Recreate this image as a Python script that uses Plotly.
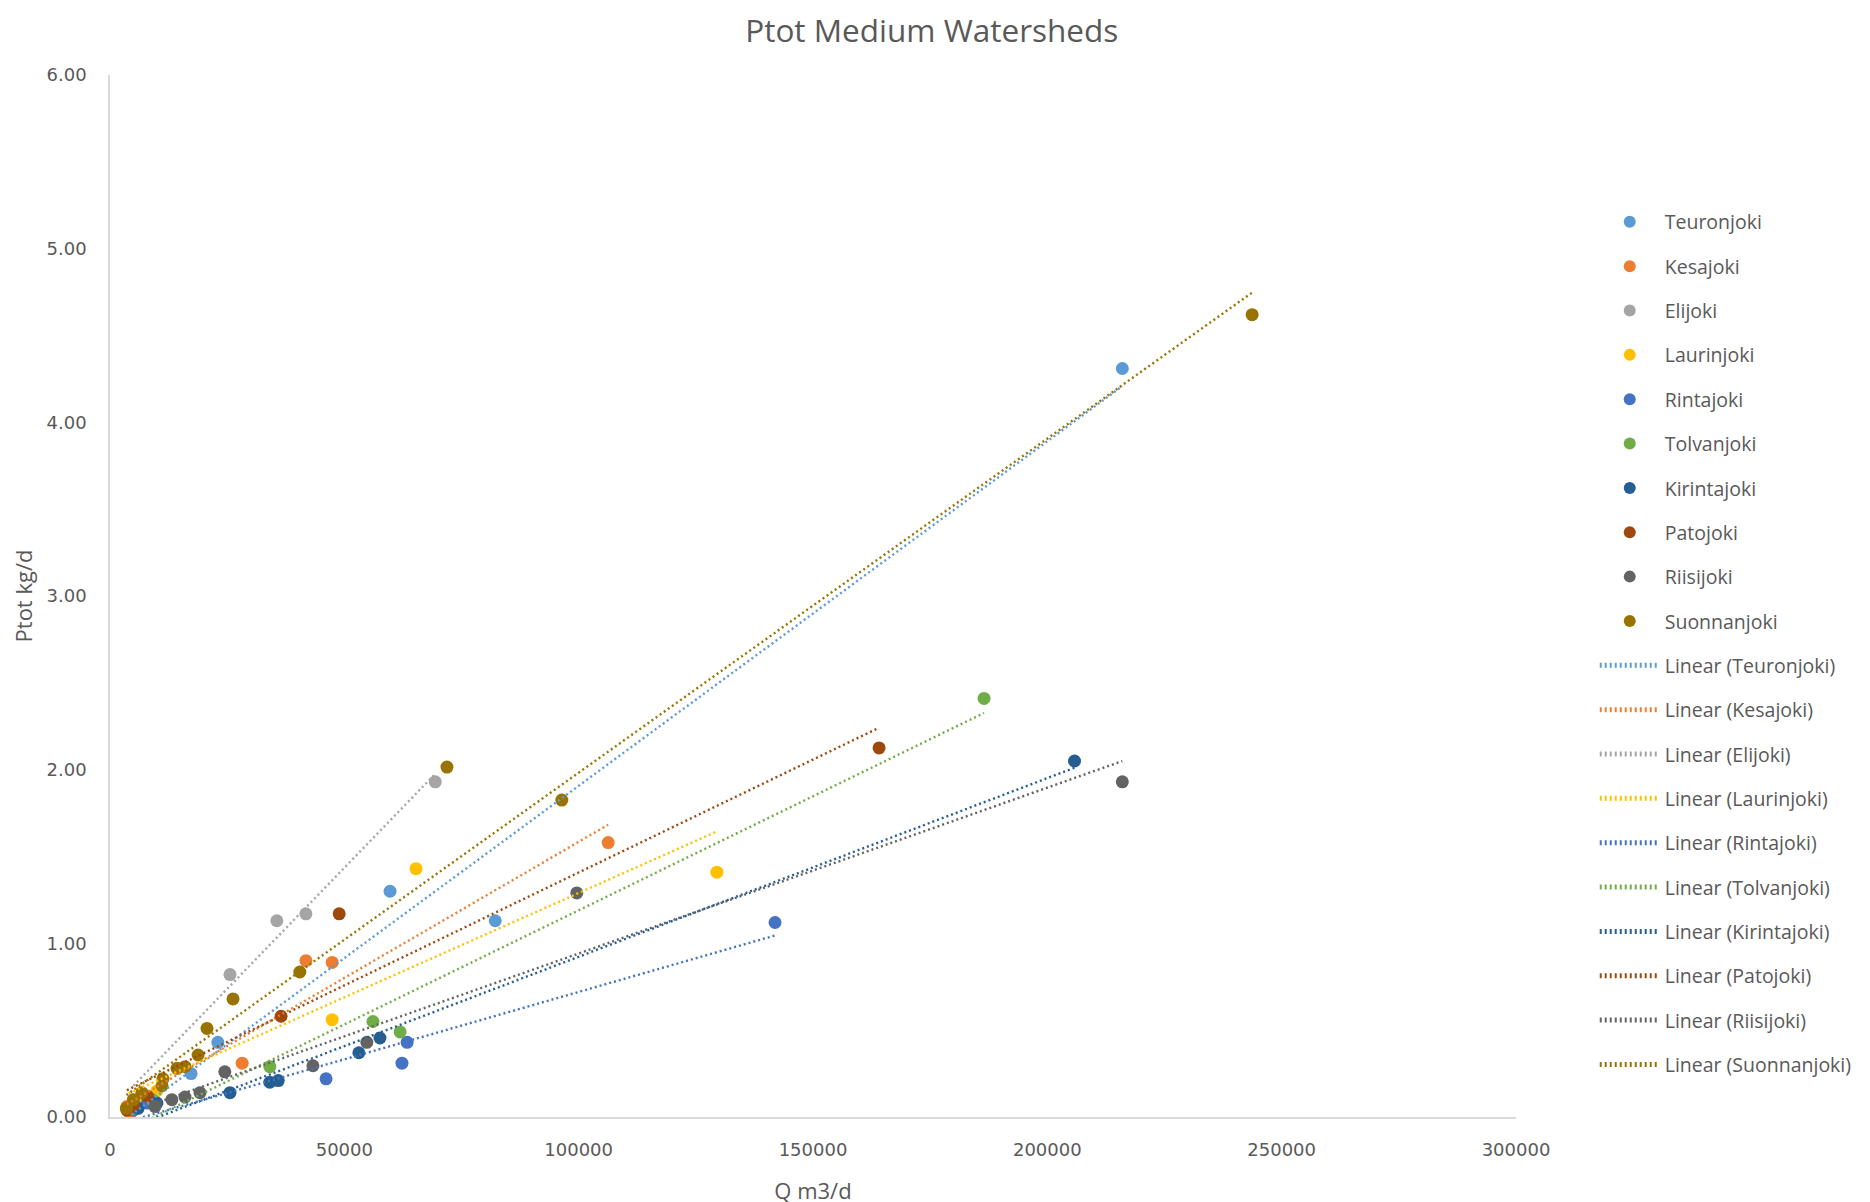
import numpy as np
import plotly.graph_objects as go

# ---- data ----
names = ["Teuronjoki", "Kesajoki", "Elijoki", "Laurinjoki", "Rintajoki",
         "Tolvanjoki", "Kirintajoki", "Patojoki", "Riisijoki", "Suonnanjoki"]

teuronjoki_q = [4500, 8000, 17300, 23000, 59750, 82200, 216000]
teuronjoki_p = [0.07, 0.12, 0.25, 0.43, 1.30, 1.13, 4.31]

kesajoki_q = [3600, 4300, 7000, 28200, 41800, 47400, 106300]
kesajoki_p = [0.06, 0.02, 0.10, 0.31, 0.90, 0.89, 1.58]

elijoki_q = [5000, 25600, 35600, 41800, 69400]
elijoki_p = [0.10, 0.82, 1.13, 1.17, 1.93]

laurinjoki_q = [4000, 6000, 10000, 47400, 65300, 129500]
laurinjoki_p = [0.05, 0.08, 0.15, 0.56, 1.43, 1.41]

rintajoki_q = [5000, 8000, 46100, 62300, 63400, 141900]
rintajoki_p = [0.04, 0.08, 0.22, 0.31, 0.43, 1.12]

tolvanjoki_q = [5000, 9000, 34100, 56100, 61900, 186500]
tolvanjoki_p = [0.05, 0.10, 0.29, 0.55, 0.49, 2.41]

kirintajoki_q = [6000, 10000, 25600, 34100, 35900, 53100, 57600, 205800]
kirintajoki_p = [0.05, 0.08, 0.14, 0.20, 0.21, 0.37, 0.455, 2.05]

patojoki_q = [3600, 5000, 8000, 36500, 48900, 164100]
patojoki_p = [0.04, 0.07, 0.12, 0.58, 1.17, 2.125]

riisijoki_q = [9600, 13200, 16000, 19200, 24500, 43300, 54800, 99600, 216000]
riisijoki_p = [0.06, 0.10, 0.115, 0.14, 0.26, 0.295, 0.43, 1.29, 1.93]

suonnanjoki_q = [3500, 5000, 6800, 11100, 11300, 14300, 16000, 18800, 20700,
                 26250, 40500, 71900, 96400, 243700]
suonnanjoki_p = [0.05, 0.10, 0.14, 0.18, 0.22, 0.28, 0.29, 0.357, 0.51,
                 0.68, 0.835, 2.015, 1.825, 4.62]

series_q = [teuronjoki_q, kesajoki_q, elijoki_q, laurinjoki_q, rintajoki_q,
            tolvanjoki_q, kirintajoki_q, patojoki_q, riisijoki_q, suonnanjoki_q]
series_p = [teuronjoki_p, kesajoki_p, elijoki_p, laurinjoki_p, rintajoki_p,
            tolvanjoki_p, kirintajoki_p, patojoki_p, riisijoki_p, suonnanjoki_p]

x_ticks = [0, 50000, 100000, 150000, 200000, 250000, 300000]
y_ticks = [0, 1, 2, 3, 4, 5, 6]

# ---- styles ----
colors = ["#5B9BD5", "#ED7D31", "#A5A5A5", "#FFC000", "#4472C4",
          "#70AD47", "#255E91", "#9E480E", "#636363", "#997300"]
text_color = "#595959"
font_main = "Open Sans"

fig = go.Figure()

for i, name in enumerate(names):
    fig.add_trace(go.Scatter(
        x=series_q[i], y=series_p[i], mode="markers", name=name,
        legendgroup="m" + str(i),
        marker=dict(color=colors[i], size=13, line=dict(width=0)),
    ))

for i, name in enumerate(names):
    q = np.array(series_q[i], dtype=float)
    p = np.array(series_p[i], dtype=float)
    slope, intercept = np.polyfit(q, p, 1)
    xs = [q.min(), q.max()]
    ys = [slope * xs[0] + intercept, slope * xs[1] + intercept]
    fig.add_trace(go.Scatter(
        x=xs, y=ys, mode="lines", name="Linear (" + name + ")",
        legendgroup="l" + str(i),
        line=dict(color=colors[i], width=2.4, dash="2px,3px"),
    ))

fig.update_layout(
    width=1870, height=1202,
    paper_bgcolor="white", plot_bgcolor="white",
    margin=dict(l=102, r=362, t=67, b=93),
    title=dict(text="Ptot Medium Watersheds", x=0.494, xanchor="center",
               y=0.981, yanchor="middle",
               font=dict(family=font_main, size=31.5, color=text_color)),
    font=dict(family=font_main, color=text_color),
    legend=dict(x=1.056, xanchor="left", y=0.8775, yanchor="top",
                font=dict(family=font_main, size=19.5, color=text_color),
                tracegroupgap=16, itemsizing="constant", itemwidth=60,
                bgcolor="rgba(0,0,0,0)"),
    showlegend=True,
)

fig.update_xaxes(
    range=[0, 300000], tickvals=x_ticks, tickformat="d",
    showgrid=False, zeroline=False,
    showline=True, linecolor="#D9D9D9", linewidth=1.5,
    ticks="outside", ticklen=16, tickcolor="rgba(0,0,0,0)",
    tickfont=dict(family="DejaVu Sans", size=18, color=text_color),
    title=dict(text="Q m3/d", standoff=24,
               font=dict(family=font_main, size=22, color=text_color)),
    automargin=False,
)
fig.update_yaxes(
    range=[0, 6], tickvals=y_ticks, tickformat=".2f",
    showgrid=False, zeroline=False,
    showline=True, linecolor="#D9D9D9", linewidth=1.5,
    ticks="outside", ticklen=18, tickcolor="rgba(0,0,0,0)",
    tickfont=dict(family="DejaVu Sans", size=18, color=text_color),
    title=dict(text="Ptot kg/d", standoff=10,
               font=dict(family=font_main, size=22, color=text_color)),
    automargin=False,
)

fig.write_html("out.html")
